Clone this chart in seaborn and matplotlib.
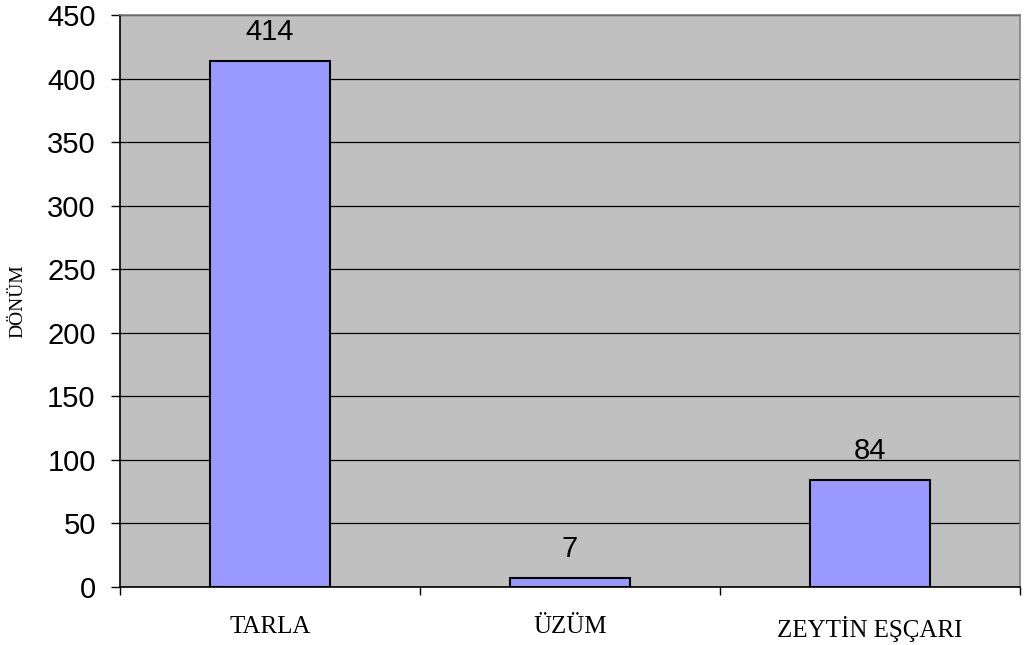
import matplotlib
matplotlib.use("Agg")
import matplotlib.pyplot as plt
import seaborn as sns
import pandas as pd
from matplotlib.ticker import FixedLocator, NullFormatter

categories = ["TARLA", "ÜZÜM", "ZEYTİN EŞÇARI"]
values = [414, 7, 84]
yticks = [0, 50, 100, 150, 200, 250, 300, 350, 400, 450]
ylabel = "DÖNÜM"

sns.set_style("white")
plt.rcParams["font.family"] = ["Liberation Sans", "DejaVu Sans"]
plt.rcParams["text.color"] = "black"
plt.rcParams["xtick.color"] = "black"
plt.rcParams["ytick.color"] = "black"
plt.rcParams["axes.labelcolor"] = "black"

df = pd.DataFrame({"cat": categories, "val": values})

fig = plt.figure(figsize=(10.24, 6.45), dpi=100)
ax = fig.add_axes([120/1024, 1-587/645, 900/1024, 572/645])
ax.set_facecolor("#C0C0C0")

sns.barplot(data=df, x="cat", y="val", color="#9999FF", width=0.4,
            edgecolor="black", linewidth=1.5, saturation=1, ax=ax, zorder=3)

ax.set_xlim(-0.5, len(categories) - 0.5)
ax.set_ylim(0, 450)
ax.set_yticks(yticks)
ax.yaxis.grid(True, color="black", linewidth=0.9, zorder=1)
ax.set_axisbelow(True)
ax.xaxis.grid(False)

ax.tick_params(axis="y", labelsize=21, length=6.5, width=1, color="black",
               labelcolor="black", pad=11, left=True)
# x: labels at centres, ticks at boundaries
ax.set_xticks(range(len(categories)))
ax.set_xticklabels(categories, fontfamily=["Liberation Serif", "DejaVu Serif"], fontsize=18)
ax.tick_params(axis="x", which="major", length=0, pad=21, labelcolor="black")
ax.xaxis.set_minor_locator(FixedLocator([-0.5 + i for i in range(len(categories) + 1)]))
ax.xaxis.set_minor_formatter(NullFormatter())
ax.tick_params(axis="x", which="minor", length=6, width=1, color="black", bottom=True)

for s in ["left", "bottom"]:
    ax.spines[s].set_color("black")
    ax.spines[s].set_linewidth(1.2)
for s in ["top", "right"]:
    ax.spines[s].set_color("#808080")
    ax.spines[s].set_linewidth(1.2)

ax.set_xlabel("")
ax.set_ylabel(ylabel, fontfamily=["Liberation Serif", "DejaVu Serif"], fontsize=14,
              labelpad=15, color="black")

for i, v in enumerate(values):
    ax.annotate(str(v), (i, v), xytext=(0, 15), textcoords="offset points",
                ha="center", va="baseline", fontsize=21, color="black")

fig.savefig("out.png", dpi=100)
